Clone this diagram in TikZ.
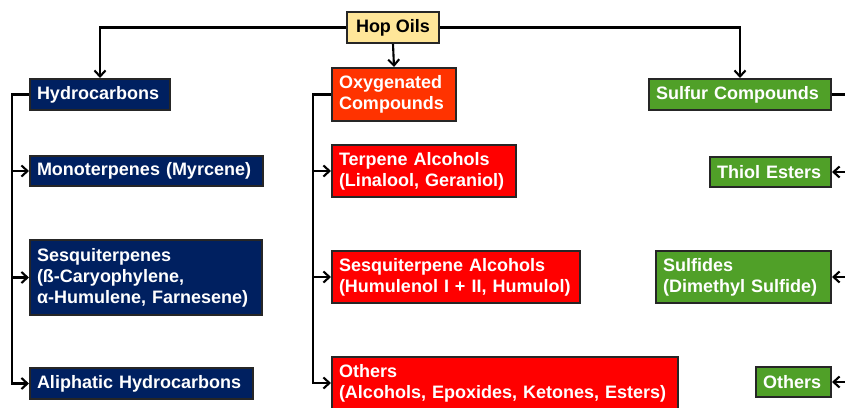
\documentclass[tikz,border=0pt]{standalone}
\usepackage{fontspec}
\setmainfont{Liberation Sans}
\usepackage{tikz}
\usetikzlibrary{arrows.meta}
\usetikzlibrary{calc}

\definecolor{hopyellow}{RGB}{255,230,153}
\definecolor{hcnavy}{RGB}{0,32,96}
\definecolor{oxorange}{RGB}{255,51,0}
\definecolor{oxred}{RGB}{255,0,0}
\definecolor{sgreen}{RGB}{80,160,40}

\begin{document}
\begin{tikzpicture}[x=1pt,y=-1pt,>={Straight Barb[length=6pt,width=11pt]},
  line width=2.1pt,
  cls/.style={draw=black!85,line width=2pt,anchor=west,text=white,
    font=\fontsize{18}{21}\selectfont\bfseries,align=left,
    inner xsep=7pt,inner ysep=3pt},
  hc/.style={cls,fill=hcnavy},
  ox/.style={cls,fill=oxred},
  su/.style={cls,fill=sgreen}]
\useasboundingbox (0,0) rectangle (845,407);
%\draw[red,thin] (0,0) rectangle (845,407);

\path node[draw=black!85,line width=2pt,fill=hopyellow,minimum width=92pt,minimum height=31pt,
  font=\fontsize{18}{21}\selectfont\bfseries] (hop) at (393,27.5) {Hop Oils};

% hydrocarbons
\path node[hc,text width=126pt,minimum height=31pt] (hyd) at (29,94.5) {Hydrocarbons};
\path node[hc,text width=219pt,minimum height=30pt] (mono) at (29,171) {Monoterpenes (Myrcene)};
\path node[hc,text width=218pt,minimum height=75pt] (sesq) at (29,277.5) {Sesquiterpenes\\(ß-Caryophylene,\\α-Humulene, Farnesene)};
\path node[hc,text width=209pt,minimum height=31pt] (aliph) at (29,383.5) {Aliphatic Hydrocarbons};

% oxygenated
\path node[ox,fill=oxorange,text width=110pt,minimum height=53pt] (oxy) at (331,94.5) {Oxygenated\\Compounds};
\path node[ox,text width=170pt,minimum height=52pt] (terp) at (331,171) {Terpene Alcohols\\(Linalool, Geraniol)};
\path node[ox,text width=234pt,minimum height=52pt] (sqalc) at (331,277) {Sesquiterpene Alcohols\\(Humulenol I + II, Humulol)};
\path node[ox,text width=332pt,minimum height=52pt] (oxoth) at (331,383) {Others\\(Alcohols, Epoxides, Ketones, Esters)};

% sulfur
\path node[su,text width=168pt,minimum height=31pt] (sulf) at (648,94.5) {Sulfur Compounds};
\path node[su,text width=107pt,minimum height=30pt] (thiol) at (709,172) {Thiol Esters};
\path node[su,text width=161pt,minimum height=52pt] (sfide) at (655,277) {Sulfides\\(Dimethyl Sulfide)};
\path node[su,text width=61pt,minimum height=30pt] (suoth) at (755,382) {Others};

% top level
\draw[->] (hop.west) -| (hyd.north);
\draw[->] (hop.east) -| (sulf.north);
\draw[->] (hop.south) -- (oxy.north);

% branches
\draw[->] (hyd.west) -- +(-17,0) coordinate (hl) |- (aliph.west);
\draw[->] (hl |- mono.west) -- (mono.west);
\draw[->] (hl |- sesq.west) -- (sesq.west);

\draw[->] (oxy.west) -- +(-18,0) coordinate (ol) |- (oxoth.west);
\draw[->] (ol |- terp.west) -- (terp.west);
\draw[->] (ol |- sqalc.west) -- (sqalc.west);

\draw[->] (sulf.east) -- +(18,0) coordinate (sr) |- (suoth.east);
\draw[->] (sr |- thiol.east) -- (thiol.east);
\draw[->] (sr |- sfide.east) -- (sfide.east);
\end{tikzpicture}
\end{document}
